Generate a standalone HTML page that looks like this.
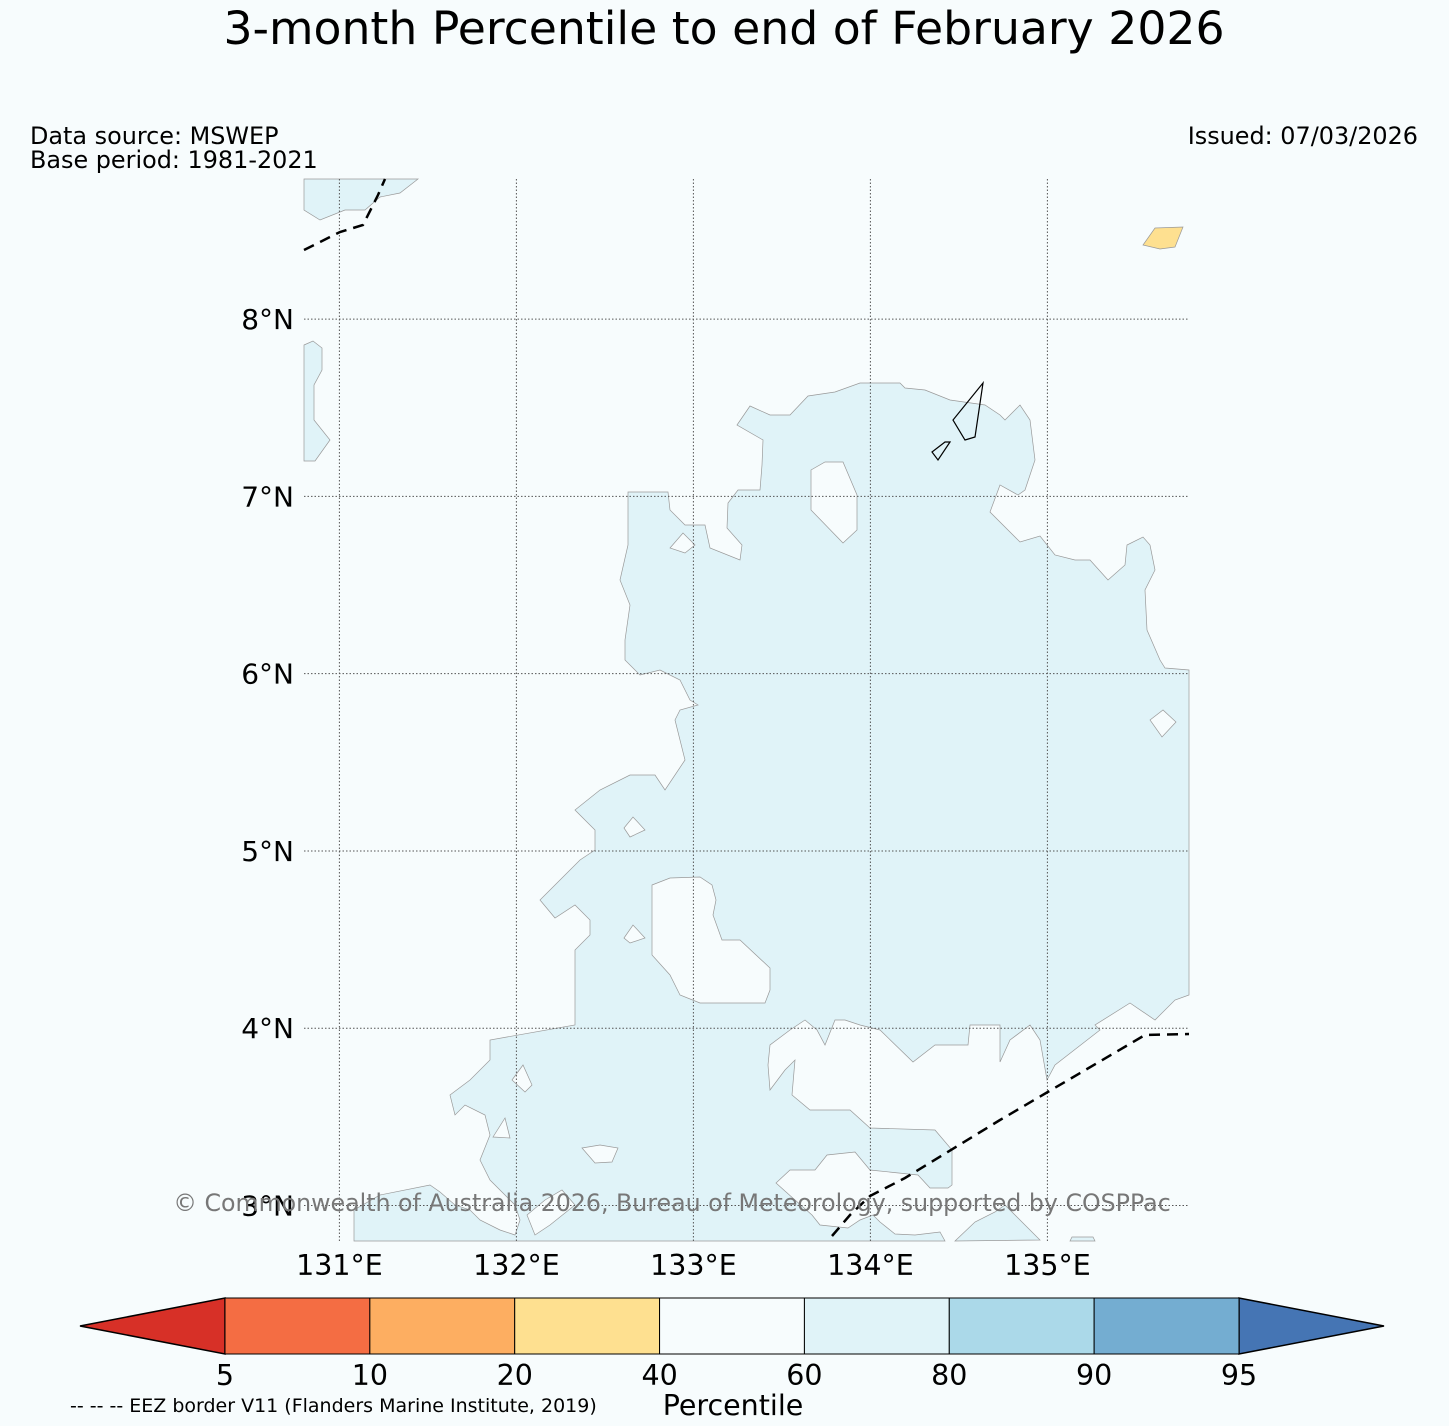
<!DOCTYPE html>
<html><head><meta charset="utf-8"><style>
html,body{margin:0;padding:0;background:#f7fcfd;}
svg{display:block;font-family:"DejaVu Sans","Liberation Sans",sans-serif;}
</style></head><body>
<svg id="fig" width="1449" height="1426" viewBox="0 0 1449 1426">
<rect width="1449" height="1426" fill="#f7fcfd"/>
<text x="724" y="44" font-size="45.7" text-anchor="middle">3-month Percentile to end of February 2026</text>
<text x="30" y="144" font-size="23.9">Data source: MSWEP</text>
<text x="30" y="168" font-size="23.9">Base period: 1981-2021</text>
<text x="1418" y="144" font-size="23.9" text-anchor="end">Issued: 07/03/2026</text>
<g id="map"></g>
<g id="grid"></g>
<g id="eez"></g>
<text x="672" y="1211" font-size="23.7" fill="#777" text-anchor="middle">© Commonwealth of Australia 2026, Bureau of Meteorology, supported by COSPPac</text>
<g id="cbar"></g>
<text x="733" y="1415" font-size="28.5" text-anchor="middle">Percentile</text>
<text x="70" y="1412" font-size="19">-- -- -- EEZ border V11 (Flanders Marine Institute, 2019)</text>
</svg>
<script>
const NS="http://www.w3.org/2000/svg";
// colorbar data
const boundaries=[5,10,20,40,60,80,90,95];
const binColors=["#f46d43","#fdae61","#fee090","#f7fcfd","#e0f3f8","#abd9e9","#74add1"];
const underColor="#d73027", overColor="#4575b4";
// axes ticks
const lonTicks=[131,132,133,134,135];
const latTicks=[8,7,6,5,4,3];
// map extents
const lonMin=130.8, lonMax=135.8, latMin=2.8, latMax=8.79;
const X0=304,X1=1189,Y0=179,Y1=1241;
function xLon(l){return X0+(l-lonMin)/(lonMax-lonMin)*(X1-X0);}
function yLat(l){return Y1-(l-latMin)/(latMax-latMin)*(Y1-Y0);}
const mainBlue=[[737,425],[750,406],[770,415],[790,415],[808,396],[835,392],[860,383],[900,383],[905,388],[925,390],[950,400],[985,405],[1000,415],[1005,420],[1020,405],[1030,420],[1035,460],[1025,490],[1018,495],[1000,485],[990,512],[1020,542],[1040,536],[1055,555],[1075,560],[1090,560],[1108,580],[1125,565],[1127,545],[1143,537],[1150,545],[1155,570],[1145,590],[1147,630],[1160,660],[1165,668],[1189,670],[1189,995],[1175,1000],[1155,1020],[1130,1003],[1095,1025],[1100,1030],[1055,1065],[1047,1080],[1040,1040],[1030,1025],[1010,1040],[1000,1062],[1000,1025],[970,1025],[968,1045],[935,1045],[913,1062],[880,1030],[860,1025],[845,1020],[835,1020],[825,1045],[817,1030],[805,1020],[790,1030],[770,1045],[768,1065],[770,1090],[785,1070],[795,1060],[792,1095],[810,1110],[850,1110],[870,1128],[935,1130],[952,1150],[952,1185],[948,1188],[930,1188],[918,1175],[870,1170],[855,1152],[827,1155],[815,1170],[790,1170],[776,1183],[795,1200],[812,1215],[820,1225],[848,1228],[860,1220],[873,1215],[880,1222],[895,1234],[915,1235],[940,1232],[945,1241],[354,1241],[354,1210],[380,1195],[430,1185],[440,1192],[455,1205],[470,1210],[480,1220],[500,1230],[515,1235],[520,1220],[515,1205],[490,1180],[480,1160],[490,1135],[485,1115],[465,1105],[455,1115],[450,1095],[470,1080],[490,1060],[490,1040],[575,1025],[575,950],[590,935],[590,920],[575,905],[555,918],[540,900],[560,880],[580,860],[595,850],[595,830],[575,810],[600,790],[630,775],[655,775],[665,790],[685,760],[675,720],[680,710],[698,705],[690,700],[680,680],[660,670],[640,675],[625,660],[625,640],[630,605],[620,580],[628,545],[628,492],[668,492],[670,510],[685,525],[705,525],[710,548],[740,560],[742,545],[727,528],[728,503],[738,490],[760,490],[762,465],[763,440]];
const blueExtra=[
[[304,179],[418,179],[400,193],[380,197],[365,210],[345,210],[320,220],[304,210]],
[[304,345],[313,341],[322,348],[322,370],[314,385],[314,420],[330,440],[315,461],[304,461]],
[[955,1241],[975,1222],[995,1212],[1005,1205],[1040,1240]],
[[1070,1241],[1072,1237],[1093,1237],[1095,1241]]];
const holes=[
[[811,470],[825,462],[843,462],[857,495],[857,530],[843,543],[811,510]],
[[652,885],[670,878],[700,877],[712,885],[716,900],[713,915],[722,940],[740,940],[770,968],[770,990],[765,1003],[700,1003],[680,995],[670,975],[652,955]],
[[670,548],[683,533],[695,545],[685,553]],
[[624,828],[633,817],[645,830],[630,837]],
[[624,938],[633,925],[645,938],[630,943]],
[[1150,720],[1163,710],[1176,722],[1162,737]],
[[512,1080],[523,1065],[532,1085],[525,1092]],
[[493,1137],[505,1118],[510,1138]],
[[582,1148],[600,1145],[618,1148],[612,1162],[595,1163]],
[[527,1215],[545,1200],[562,1190],[575,1205],[550,1225],[535,1235]]];
const yellow=[[1143,245],[1155,228],[1183,227],[1175,247],[1160,249]];
const eezA=[[304,250],[340,232],[363,225],[378,195],[385,179]];
const eezB=[[832,1236],[850,1215],[870,1196],[905,1178],[1000,1120],[1145,1035],[1189,1034]];
function el(tag,attrs,parent){const e=document.createElementNS(NS,tag);for(const k in attrs)e.setAttribute(k,attrs[k]);parent.appendChild(e);return e;}
const pts=a=>a.map(p=>p.join(',')).join(' ');
const map=document.getElementById('map');
let p=el('polygon',{points:pts(mainBlue),fill:'#e0f3f8',stroke:'#999','stroke-width':0.7},map);


blueExtra.forEach(b=>{const q=el('polygon',{points:pts(b),fill:'#e0f3f8',stroke:'#999','stroke-width':0.7},map);

});
holes.forEach(b=>{const q=el('polygon',{points:pts(b),fill:'#f7fcfd',stroke:'#999','stroke-width':0.7},map);

});
let yq=el('polygon',{points:pts(yellow),fill:'#fee090',stroke:'#999','stroke-width':0.7},map);


let isl=el('polygon',{points:'983,383 975,437 965,440 953,420',fill:'none',stroke:'#000','stroke-width':1.2},map);


let isl2=el('polygon',{points:'950,442 938,460 932,452 945,442',fill:'none',stroke:'#000','stroke-width':1.2},map);


const grid=document.getElementById('grid');
lonTicks.forEach(l=>{const x=xLon(l);
const g=el('line',{x1:x,x2:x,y1:Y0,y2:Y1,stroke:'#555','stroke-width':1,'stroke-dasharray':'1.5,2'},grid);


const t=el('text',{x:x,y:1275,'font-size':28.5,'text-anchor':'middle'},grid);t.textContent=l+'°E';

});
latTicks.forEach(l=>{const y=yLat(l);
const g=el('line',{x1:X0,x2:X1,y1:y,y2:y,stroke:'#555','stroke-width':1,'stroke-dasharray':'1.5,2'},grid);


const t=el('text',{x:294,y:y+10,'font-size':28,'text-anchor':'end'},grid);t.textContent=l+'°N';

});
const eez=document.getElementById('eez');
[eezA,eezB].forEach(a=>{const l=el('polyline',{points:pts(a),fill:'none',stroke:'#000','stroke-width':2.5,'stroke-dasharray':'11,7'},eez);

});
// colorbar
const cb=document.getElementById('cbar');
const cx0=225,cx1=1239,cy0=1298,cy1=1354,cym=(cy0+cy1)/2;
const n=boundaries.length-1,w=(cx1-cx0)/n;
let u=el('polygon',{points:`${cx0},${cy0} ${cx0},${cy1} 80,${cym}`,fill:underColor,stroke:'#000','stroke-width':1.5},cb);


let o=el('polygon',{points:`${cx1},${cy0} ${cx1},${cy1} 1384,${cym}`,fill:overColor,stroke:'#000','stroke-width':1.5},cb);


binColors.forEach((c,i)=>{const r=el('rect',{x:cx0+i*w,y:cy0,width:w,height:cy1-cy0,fill:c,stroke:'#000','stroke-width':1},cb);

});
boundaries.forEach((b,i)=>{const t=el('text',{x:cx0+i*w,y:1385,'font-size':28.5,'text-anchor':'middle'},cb);t.textContent=b;

});
</script>
</body></html>
